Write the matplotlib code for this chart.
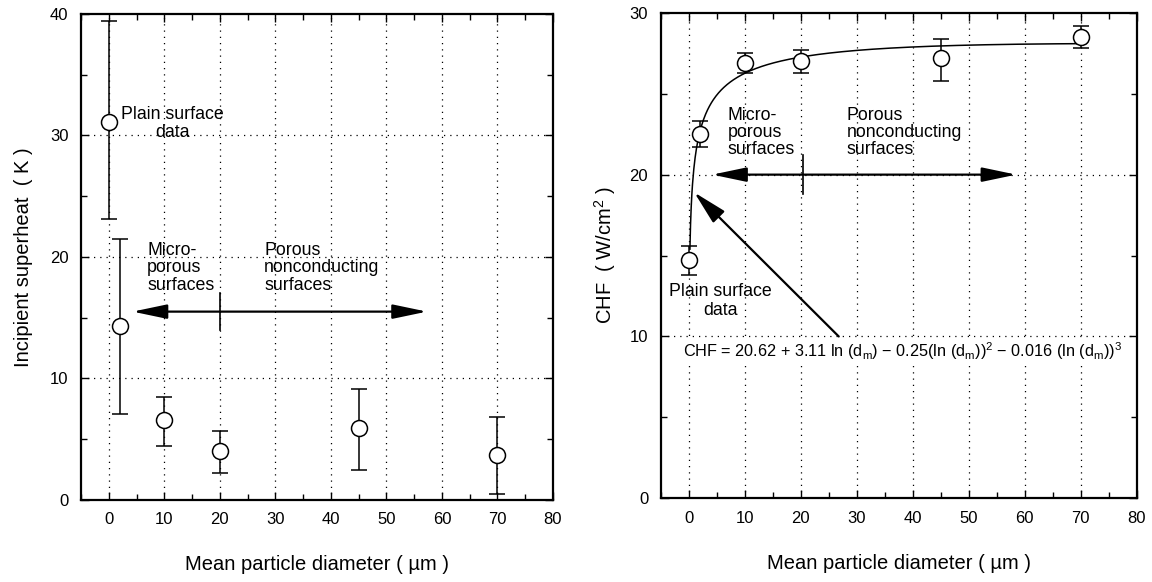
import numpy as np
import matplotlib
matplotlib.use("Agg")
import matplotlib.pyplot as plt
from matplotlib.ticker import MultipleLocator

plt.rcParams['font.family'] = ['Liberation Sans', 'DejaVu Sans']
plt.rcParams['mathtext.default'] = 'regular'

# incipient superheat, mean +/- error bar ends
d_sh = [0, 2, 10, 20, 45, 70]
sh = [31.1, 14.3, 6.6, 4.0, 5.9, 3.7]
sh_hi = [39.4, 21.5, 8.5, 5.7, 9.1, 6.8]
sh_lo = [23.1, 7.1, 4.4, 2.2, 2.5, 0.5]

# critical heat flux, mean +/- error bar ends
d_chf = [0, 2, 10, 20, 45, 70]
chf = [14.7, 22.5, 26.9, 27.0, 27.2, 28.5]
chf_hi = [15.6, 23.3, 27.5, 27.7, 28.4, 29.2]
chf_lo = [13.8, 21.7, 26.3, 26.3, 25.8, 27.8]

# fitted correlation coefficients
c0, c1, c2, c3 = 20.62, 3.11, 0.25, 0.016

fig = plt.figure(figsize=(11.52, 5.82), dpi=100)
ax1 = fig.add_axes([0.0703, 0.141, 0.4097, 0.835])
ax2 = fig.add_axes([0.5735, 0.1438, 0.4132, 0.8342])

fs = 12.8
tfs = 12
lfs = 14.5


def style(ax, ymax):
    ax.set_xlim(-5, 80)
    ax.set_ylim(0, ymax)
    ax.xaxis.set_major_locator(MultipleLocator(10))
    ax.xaxis.set_minor_locator(MultipleLocator(5))
    ax.yaxis.set_major_locator(MultipleLocator(10))
    ax.yaxis.set_minor_locator(MultipleLocator(5))
    ax.tick_params(which='both', direction='in', top=True, right=True,
                   labelsize=tfs, width=1.0)
    ax.tick_params(which='major', length=6, pad=9)
    ax.tick_params(which='minor', length=4)
    for s in ax.spines.values():
        s.set_linewidth(1.6)
    for x in range(0, 80, 10):
        ax.axvline(x, color='black', lw=0.9, ls=(0, (1, 4)), zorder=0)
    for y in range(10, ymax, 10):
        ax.axhline(y, color='black', lw=0.9, ls=(0, (1, 4)), zorder=0)
    ax.set_xlabel('Mean particle diameter ( \u00b5m )', fontsize=lfs, labelpad=20)


def errpts(ax, x, y, hi, lo):
    y = np.array(y)
    err = [y - np.array(lo), np.array(hi) - y]
    ax.errorbar(x, y, yerr=err, fmt='o', mfc='white', mec='black', ms=11.5,
                mew=1.1, ecolor='black', elinewidth=1.1, capsize=6,
                capthick=1.1, zorder=3)


def double_arrow(ax, x0, x1, y, xm, dy):
    ax.annotate('', xy=(x0, y), xytext=(x1, y),
                arrowprops=dict(arrowstyle='<|-|>,head_length=1.05,head_width=0.22',
                                color='black', lw=1.6, shrinkA=0, shrinkB=0,
                                mutation_scale=20))
    ax.plot([xm, xm], [y - dy, y + dy], color='black', lw=1.2)


# left: incipient superheat
style(ax1, 40)
errpts(ax1, d_sh, sh, sh_hi, sh_lo)
ax1.set_ylabel('Incipient superheat  ( K )', fontsize=lfs, labelpad=12)
ax1.text(11.5, 31.0, 'Plain surface\ndata', fontsize=fs, ha='center', va='center',
         linespacing=1.1)
ax1.text(6.9, 19.1, 'Micro-\nporous\nsurfaces', fontsize=fs, ha='left',
         va='center', linespacing=1.02)
ax1.text(28.0, 19.1, 'Porous\nnonconducting\nsurfaces', fontsize=fs,
         ha='left', va='center', linespacing=1.02)
double_arrow(ax1, 4.3, 57.3, 15.5, 20, 1.5)

# right: CHF with fitted curve
style(ax2, 30)
dm = np.linspace(0.22, 70, 600)
ln = np.log(dm)
ax2.plot(dm, c0 + c1 * ln - c2 * ln ** 2 - c3 * ln ** 3, color='black', lw=1.1)
errpts(ax2, d_chf, chf, chf_hi, chf_lo)
ax2.set_ylabel('CHF  ( W/cm$^2$ )', fontsize=lfs, labelpad=8)
ax2.text(7.0, 22.6, 'Micro-\nporous\nsurfaces', fontsize=fs, ha='left',
         va='center', linespacing=1.02)
ax2.text(28.2, 22.6, 'Porous\nnonconducting\nsurfaces', fontsize=fs,
         ha='left', va='center', linespacing=1.02)
double_arrow(ax2, 4.2, 58.5, 20.0, 20.5, 1.2)
ax2.text(5.6, 12.2, 'Plain surface\ndata', fontsize=fs, ha='center',
         va='center', linespacing=1.1)
ax2.annotate('', xy=(1.0, 18.9), xytext=(26.8, 10.0),
             arrowprops=dict(arrowstyle='-|>,head_length=1.05,head_width=0.25',
                             color='black', lw=1.6, shrinkA=0, shrinkB=0,
                             mutation_scale=20))
ax2.text(-1.1, 9.1,
         'CHF = %.2f + %.2f ln (d$_m$) \u2212 %.2f(ln (d$_m$))$^2$ \u2212 %.3f (ln (d$_m$))$^3$'
         % (c0, c1, c2, c3), fontsize=11.7, ha='left', va='center',
         bbox=dict(fc='white', ec='none', pad=0.5))

fig.savefig('out.png', dpi=100)
